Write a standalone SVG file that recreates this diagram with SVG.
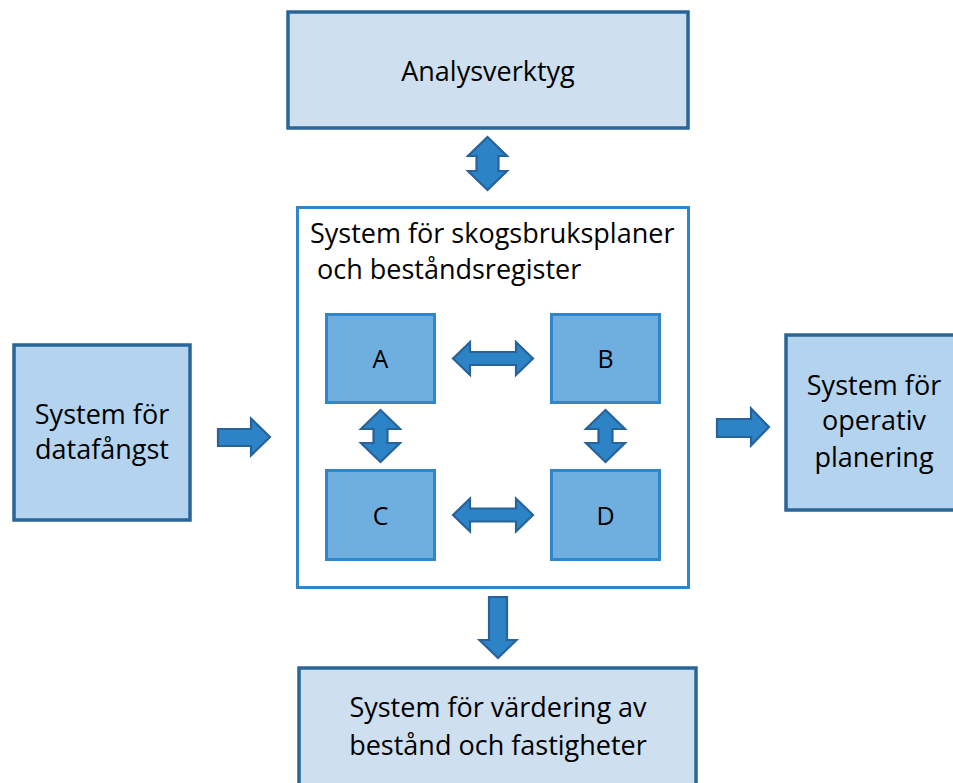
<svg xmlns="http://www.w3.org/2000/svg" width="953" height="783" viewBox="0 0 953 783">
  <style>
    .lbl { font-family: "Open Sans", "Liberation Sans", sans-serif; font-size: 27px; fill: #000; }
    .mid { text-anchor: middle; }
    .letter { font-size: 25px; }
    .outer-light { fill: #CEDFF0; stroke: #2A6597; stroke-width: 3.5; }
    .outer-mid { fill: #B3D3EE; stroke: #2A6597; stroke-width: 3.5; }
    .frame { fill: #FFFFFF; stroke: #2F86C8; stroke-width: 3; }
    .sub { fill: #6FAFE0; stroke: #2F86C8; stroke-width: 3; }
    .arrow { fill: #2C83C6; stroke: #28629A; stroke-width: 2.2; stroke-linejoin: miter; }
  </style>
  <rect width="953" height="783" fill="#FFFFFF"/>

  <g id="analysverktyg">
    <rect class="outer-light" x="288" y="12" width="400" height="116"/>
    <text class="lbl mid" x="488" y="81">Analysverktyg</text>
  </g>

  <g id="skogsbruksplaner">
    <rect class="frame" x="297.5" y="207.5" width="391" height="380"/>
    <text class="lbl" x="310" y="243">System för skogsbruksplaner</text>
    <text class="lbl" x="317" y="279">och beståndsregister</text>
  </g>

  <g id="node-a">
    <rect class="sub" x="326.5" y="314.5" width="108" height="88"/>
    <text class="lbl mid letter" x="380.5" y="368">A</text>
  </g>
  <g id="node-b">
    <rect class="sub" x="551.5" y="314.5" width="108" height="88"/>
    <text class="lbl mid letter" x="605.5" y="368">B</text>
  </g>
  <g id="node-c">
    <rect class="sub" x="326.5" y="470.5" width="108" height="89"/>
    <text class="lbl mid letter" x="380.5" y="525">C</text>
  </g>
  <g id="node-d">
    <rect class="sub" x="551.5" y="470.5" width="108" height="89"/>
    <text class="lbl mid letter" x="605.5" y="525">D</text>
  </g>

  <g id="datafangst">
    <rect class="outer-mid" x="14" y="345" width="176" height="175"/>
    <text class="lbl mid" x="102" y="424">System för</text>
    <text class="lbl mid" x="102" y="459">datafångst</text>
  </g>

  <g id="operativ-planering">
    <rect class="outer-mid" x="786" y="335" width="176" height="175"/>
    <text class="lbl mid" x="874" y="395">System för</text>
    <text class="lbl mid" x="874" y="430">operativ</text>
    <text class="lbl mid" x="874" y="467">planering</text>
  </g>

  <g id="vardering">
    <rect class="outer-light" x="299" y="668" width="397" height="130"/>
    <text class="lbl mid" x="498" y="717">System för värdering av</text>
    <text class="lbl mid" x="498" y="755">bestånd och fastigheter</text>
  </g>

  <g id="connectors">
    <!-- Analysverktyg <-> planning system -->
    <polygon class="arrow" points="487.5,137 507,156 498.5,156 498.5,171 507,171 487.5,190 468,171 476.5,171 476.5,156 468,156"/>
    <!-- A <-> B -->
    <polygon class="arrow" points="453,358.5 470,342 470,352 516,352 516,342 533,358.5 516,375 516,365 470,365 470,375"/>
    <!-- C <-> D -->
    <polygon class="arrow" points="453,515 470,498.5 470,508.5 516,508.5 516,498.5 533,515 516,531.5 516,521.5 470,521.5 470,531.5"/>
    <!-- A <-> C -->
    <polygon class="arrow" points="380.5,410 400,429 387.5,429 387.5,443 400,443 380.5,462 361,443 373.5,443 373.5,429 361,429"/>
    <!-- B <-> D -->
    <polygon class="arrow" points="605.5,410 625,429 612.5,429 612.5,443 625,443 605.5,462 586,443 598.5,443 598.5,429 586,429"/>
    <!-- data capture -> planning system -->
    <polygon class="arrow" points="218,429 251,429 251,418.5 270,437 251,455.5 251,446 218,446"/>
    <!-- planning system -> operative planning -->
    <polygon class="arrow" points="717,419 751,419 751,408.5 769,427 751,445.5 751,437 717,437"/>
    <!-- planning system -> valuation -->
    <polygon class="arrow" points="489,597 507,597 507,640 516.5,640 498,658 479.5,640 489,640"/>
  </g>
</svg>
